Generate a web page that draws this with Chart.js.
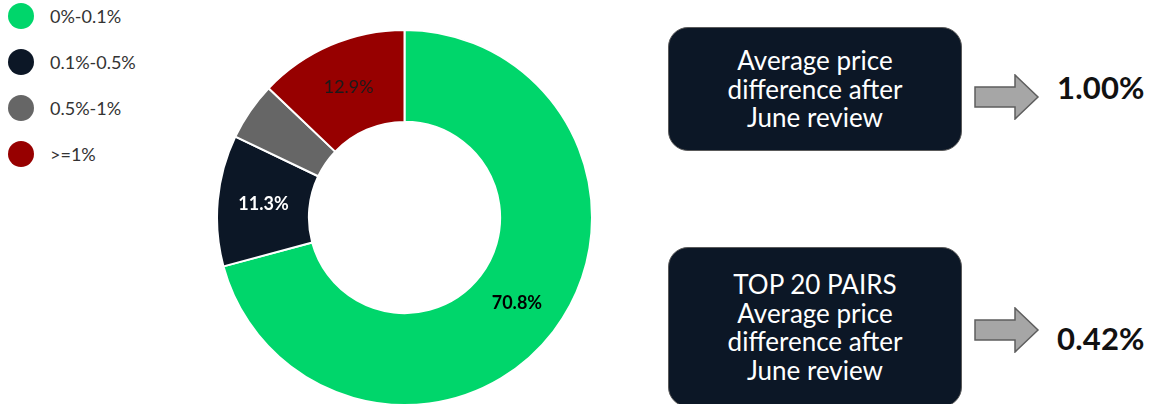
<!DOCTYPE html>
<html>
<head>
<meta charset="utf-8">
<script src="https://cdn.jsdelivr.net/npm/chart.js@4.4.1/dist/chart.umd.min.js"></script>
<style>
  html, body { margin: 0; padding: 0; background: #fff; }
  body { width: 1153px; height: 404px; position: relative; overflow: hidden; font-family: Lato, "Open Sans", sans-serif; }
  #donutWrap { position: absolute; left: 216px; top: 29px; width: 377px; height: 377px; }
  #legend { position: absolute; left: 8px; top: 3px; }
  .legItem { position: absolute; left: 0; height: 26px; white-space: nowrap; }
  .legDot { position: absolute; left: 0; top: 0; width: 26px; height: 26px; border-radius: 50%; }
  .legText { position: absolute; left: 42px; top: 1px; font-size: 18px; line-height: 24px; color: #333; }
  .box { position: absolute; left: 668px; width: 294px; background: #0c1726; border: 1.5px solid #5a5a5a; border-radius: 20px;
         color: #fff; font-size: 26px; line-height: 28.5px; text-align: center; display: flex; align-items: center; justify-content: center; box-sizing: border-box; }
  .arrow { position: absolute; left: 974px; width: 66px; height: 46px; }
  .val { position: absolute; left: 1057px; font-size: 31px; font-weight: 700; color: #111; line-height: 34px; letter-spacing: 0.2px; }
</style>
</head>
<body>
<div id="legend"></div>
<div id="donutWrap"><canvas id="donut"></canvas></div>

<div class="box" style="top:27px;height:124px;">Average price<br>difference after<br>June review</div>
<svg class="arrow" style="top:74px;" viewBox="0 0 66 46"><polygon points="1,13 41,13 41,1 64,23 41,45 41,33 1,33" fill="#a6a6a6" stroke="#5e5e5e" stroke-width="1.5"/></svg>
<div class="val" style="top:70px;">1.00%</div>

<div class="box" style="top:247px;height:160px;">TOP 20 PAIRS<br>Average price<br>difference after<br>June review</div>
<svg class="arrow" style="top:307px;" viewBox="0 0 66 46"><polygon points="1,13 41,13 41,1 64,23 41,45 41,33 1,33" fill="#a6a6a6" stroke="#5e5e5e" stroke-width="1.5"/></svg>
<div class="val" style="top:321px;">0.42%</div>

<script>
const bucketLabels = ["0%-0.1%", "0.1%-0.5%", "0.5%-1%", ">=1%"];
// chart goes clockwise from the top: green, navy, gray, red
const shareValues = [70.8, 11.3, 5.0, 12.9];
const bucketColors = ["#00d66b", "#0c1726", "#666666", "#970000"];
const showLabel = [true, true, false, true];
const labelColors = ["#000000", "#ffffff", "#ffffff", "#1a1a1a"];
const labelWeights = ["bold", "bold", "normal", "normal"];

// legend on the left
const legend = document.getElementById("legend");
bucketLabels.forEach((lab, i) => {
  const item = document.createElement("div");
  item.className = "legItem";
  item.style.top = i * 46 + "px";
  item.innerHTML = '<div class="legDot" style="background:' + bucketColors[i] + '"></div><div class="legText">' + lab + "</div>";
  legend.appendChild(item);
});

const sliceLabels = {
  id: "sliceLabels",
  afterDatasetsDraw(chart) {
    const ctx = chart.ctx;
    const meta = chart.getDatasetMeta(0);
    meta.data.forEach((arc, i) => {
      if (!showLabel[i]) return;
      const pos = arc.tooltipPosition();
      ctx.save();
      ctx.font = labelWeights[i] + " 18px Lato, sans-serif";
      ctx.fillStyle = labelColors[i];
      ctx.textAlign = "center";
      ctx.textBaseline = "middle";
      ctx.fillText(shareValues[i].toFixed(1) + "%", pos.x, pos.y);
      ctx.restore();
    });
  },
};

const ctx = document.getElementById("donut").getContext("2d");
const donutChart = new Chart(ctx, {
  type: "doughnut",
  data: {
    labels: bucketLabels,
    datasets: [
      {
        data: shareValues,
        backgroundColor: bucketColors,
        borderColor: "#ffffff",
        borderWidth: 2,
      },
    ],
  },
  options: {
    responsive: true,
    maintainAspectRatio: false,
    animation: false,
    cutout: "51%",
    layout: { padding: 0 },
    plugins: {
      legend: { display: false },
      tooltip: { enabled: false },
    },
    devicePixelRatio: window.devicePixelRatio,
  },
  plugins: [sliceLabels],
});
</script>
</body>
</html>
